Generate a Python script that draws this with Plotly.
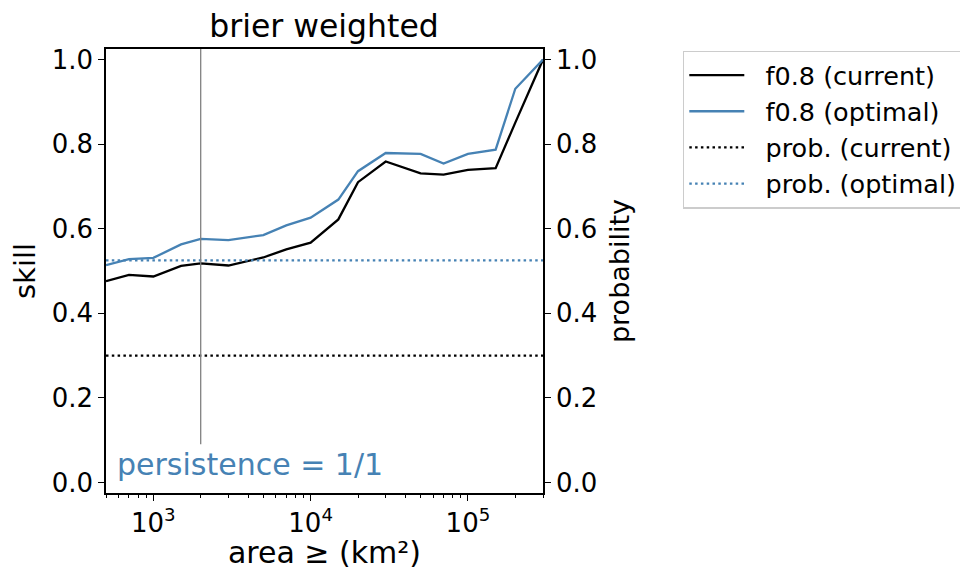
import math
import plotly.graph_objects as go

# ---- data ----
area = [500, 700, 1000, 1500, 2000, 3000, 5000, 7000, 10000, 15000, 20000,
        30000, 50000, 70000, 100000, 150000, 200000, 300000]
skill_current = [0.476, 0.491, 0.487, 0.512, 0.518, 0.513, 0.532, 0.551, 0.567,
                 0.622, 0.710, 0.759, 0.731, 0.728, 0.739, 0.743, 0.851, 1.0]
skill_optimal = [0.514, 0.528, 0.531, 0.563, 0.576, 0.573, 0.585, 0.608, 0.626,
                 0.669, 0.736, 0.779, 0.777, 0.754, 0.777, 0.787, 0.931, 1.0]
prob_current = 0.30
prob_optimal = 0.525
persistence_area = 2000
series_names = ["f0.8 (current)", "f0.8 (optimal)", "prob. (current)", "prob. (optimal)"]
x_limits = [500, 300000]
y_limits = [-0.025, 1.025]
y_ticks = [0.0, 0.2, 0.4, 0.6, 0.8, 1.0]
x_ticks = [1e3, 1e4, 1e5]
x_ticktext = ["10<sup>3</sup>", "10<sup>4</sup>", "10<sup>5</sup>"]
minor_ticks = [m * 10 ** d for d in range(2, 6) for m in range(2, 10)
               if x_limits[0] <= m * 10 ** d <= x_limits[1]]

BLUE = "#4682b4"
FONT = "DejaVu Sans"
DOT = "2.5px,3.3px"
GAP = "\u00a0\u00a0"  # visual gap between legend line sample and its label
# the page body adds an 8px offset; the figure is sized / placed to compensate
OFF = 8
W, H = 968 - OFF, 570 - OFF

fig = go.Figure()
fig.add_trace(go.Scatter(x=area, y=skill_current, mode="lines", name=GAP + series_names[0],
                         line=dict(color="black", width=2.3)))
fig.add_trace(go.Scatter(x=area, y=skill_optimal, mode="lines", name=GAP + series_names[1],
                         line=dict(color=BLUE, width=2.3)))
fig.add_trace(go.Scatter(x=x_limits, y=[prob_current] * 2, mode="lines", name=GAP + series_names[2],
                         line=dict(color="black", width=2.3, dash=DOT), yaxis="y2"))
fig.add_trace(go.Scatter(x=x_limits, y=[prob_optimal] * 2, mode="lines", name=GAP + series_names[3],
                         line=dict(color=BLUE, width=2.3, dash=DOT), yaxis="y2"))

fig.add_shape(type="line", xref="x", yref="y domain", x0=persistence_area, x1=persistence_area,
              y0=0.11, y1=1, line=dict(color="#808080", width=1.3))

fig.add_annotation(text="persistence = 1/1", xref="x domain", yref="y domain",
                   x=0.02, y=0.02, xanchor="left", yanchor="bottom", showarrow=False,
                   font=dict(family=FONT, size=30, color=BLUE))

axis_common = dict(showline=True, linecolor="black", linewidth=1.5, ticks="outside",
                   ticklen=6, tickwidth=1.3, tickcolor="black", showgrid=False,
                   zeroline=False, automargin=False,
                   tickfont=dict(family=FONT, size=26, color="black"))

fig.update_layout(
    width=W, height=H,
    margin=dict(l=106 - OFF, r=968 - 543, t=49 - OFF, b=570 - 493),
    paper_bgcolor="white", plot_bgcolor="white",
    font=dict(family=FONT, color="black"),
    title=dict(text="brier weighted", x=(324 - OFF) / W, xanchor="center", xref="container",
               y=1 - (26 - OFF) / H, yanchor="middle",
               font=dict(family=FONT, size=31.5, color="black")),
    xaxis=dict(type="log", range=[math.log10(v) for v in x_limits],
               tickvals=x_ticks, ticktext=x_ticktext, mirror=True,
               minor=dict(tickvals=minor_ticks, ticks="outside", ticklen=3.5, tickwidth=1,
                          tickcolor="black", showgrid=False),
               title=dict(text="area ≥ (km²)", font=dict(family=FONT, size=30), standoff=8),
               **axis_common),
    yaxis=dict(range=y_limits, tickvals=y_ticks, tickformat=".1f",
               title=dict(text="skill", font=dict(family=FONT, size=29), standoff=10),
               **axis_common),
    yaxis2=dict(range=y_limits, tickvals=y_ticks, tickformat=".1f", overlaying="y", side="right",
                title=dict(text="probability", font=dict(family=FONT, size=27), standoff=14),
                **axis_common),
    legend=dict(xref="container", yref="container",
                x=(683 - OFF) / W, y=1 - (50.7 - OFF) / H, xanchor="left", yanchor="top",
                itemwidth=55, bordercolor="#cccccc", borderwidth=1.3, bgcolor="white",
                font=dict(family=FONT, size=25.5, color="black")),
    showlegend=True,
)

fig.write_html("out.html")
